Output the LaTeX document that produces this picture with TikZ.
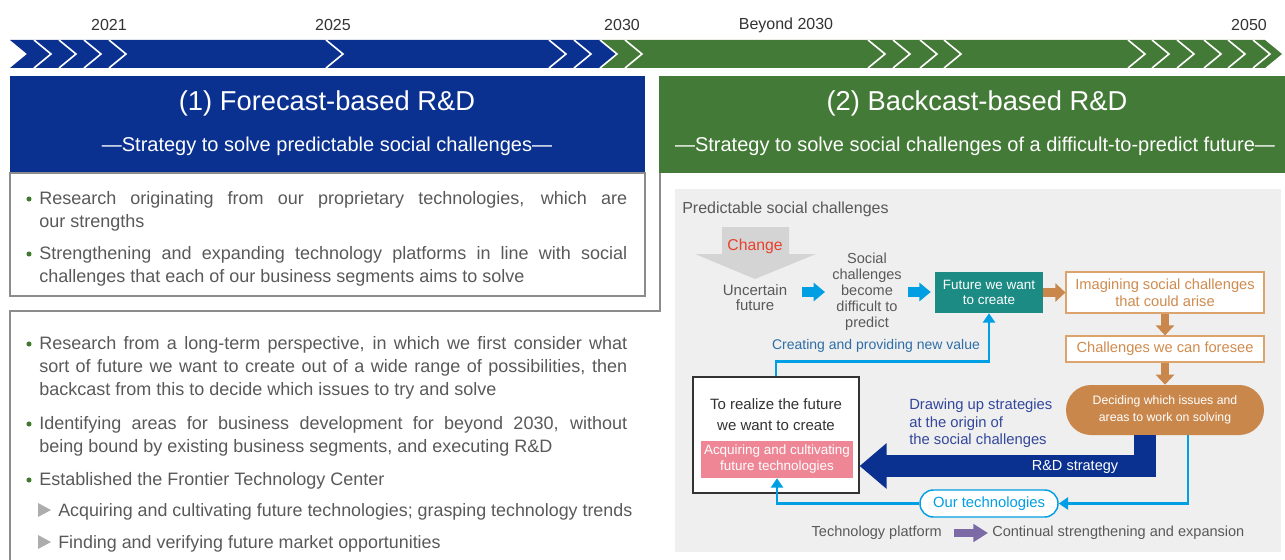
\documentclass[tikz,border=0pt]{standalone}
\usepackage{fontspec}
\setmainfont{Liberation Sans}
\usetikzlibrary{arrows.meta,positioning,calc}
\definecolor{fblue}{HTML}{0B3190}
\definecolor{bgreen}{HTML}{447A37}
\definecolor{yeartxt}{HTML}{333333}
\definecolor{bodytxt}{HTML}{595959}
\definecolor{boxline}{HTML}{8C8C8C}
\definecolor{dotgreen}{HTML}{3E7B2F}
\definecolor{trigray}{HTML}{ADADAD}
\definecolor{panelgray}{HTML}{EFEFEF}
\definecolor{changegray}{HTML}{D4D4D4}
\definecolor{changered}{HTML}{E8412B}
\definecolor{skyblue}{HTML}{009FE3}
\definecolor{tealfill}{HTML}{1B8B84}
\definecolor{ochre}{HTML}{C9874B}
\definecolor{ochreline}{HTML}{DDA36C}
\definecolor{ochretxt}{HTML}{D08B4F}
\definecolor{navytxt}{HTML}{33479B}
\definecolor{pinkfill}{HTML}{EE8696}
\definecolor{purplearr}{HTML}{7B6AA5}
\definecolor{valuetxt}{HTML}{2E6EA6}
\tikzset{
  yearlbl/.style={text=yeartxt,inner sep=0pt,font=\fontsize{12}{14}\selectfont},
  htitle/.style={text=white,inner sep=0pt,font=\fontsize{20.5}{24}\selectfont},
  hsub/.style={text=white,inner sep=0pt,font=\fontsize{15}{18}\selectfont},
  bullettxt/.style={text=bodytxt,text width=441pt,align=justify,inner sep=0pt,anchor=base west,font=\fontsize{13.5}{17.6}\selectfont},
  subtxt/.style={text=bodytxt,inner sep=0pt,anchor=base west,font=\fontsize{13.4}{16}\selectfont},
  gdot/.style={circle,fill=dotgreen,inner sep=0pt,minimum size=3.8pt},
  chev/.style={draw=white,line width=1.2pt},
  boxln/.style={draw=boxline,line width=1.1pt},
  plaintxt/.style={text=bodytxt,inner sep=0pt,align=center},
  tealbox/.style={fill=tealfill,text=white,align=center,inner sep=0pt,minimum width=81pt,minimum height=30.75pt,font=\fontsize{10.1}{11.25}\selectfont},
  ochrebox/.style={draw=ochreline,line width=0.9pt,fill=white,text=ochretxt,align=center,inner sep=0pt,minimum width=148.5pt,font=\fontsize{11}{12.75}\selectfont},
  ochrepill/.style={fill=ochre,text=white,align=center,inner sep=0pt,minimum width=148.5pt,minimum height=37.5pt,rounded corners=18.7pt,font=\fontsize{9.2}{12.75}\selectfont},
  techpill/.style={draw=skyblue,line width=1.1pt,fill=white,text=skyblue,inner sep=0pt,minimum width=103.5pt,minimum height=20.25pt,rounded corners=10pt,font=\fontsize{11.1}{13}\selectfont},
  realbox/.style={draw=yeartxt,line width=0.9pt,fill=white,inner sep=0pt,minimum width=124.5pt,minimum height=87pt},
  pinkbox/.style={fill=pinkfill,text=white,align=center,inner sep=0pt,minimum width=114pt,minimum height=27.75pt,font=\fontsize{10.1}{12}\selectfont},
  skyblk/.style={draw=skyblue,line width=7.5pt,-{Triangle[length=8.5pt,width=13.5pt]}},
  ochreblk/.style={draw=ochre,line width=6.5pt,-{Triangle[length=7.5pt,width=13.5pt]}},
  purpleblk/.style={draw=purplearr,line width=6pt,-{Triangle[length=11pt,width=13pt]}},
  rdarr/.style={draw=fblue,line width=16.5pt,line join=miter,-{Triangle[length=20.25pt,width=33pt]}},
  skyline/.style={draw=skyblue,line width=1.9pt,-{Triangle[length=7pt,width=9pt]}}
}

\begin{document}
\begin{tikzpicture}[x=0.75pt,y=-0.75pt]
  \useasboundingbox (0,0) rectangle (1285,560);
  % timeline band
  \fill[fblue] (10,40) -- (600,40) -- (617,54) -- (600,68) -- (10,68) -- (27,54) -- cycle;
  \fill[bgreen] (600,40) -- (1265,40) -- (1282,54) -- (1265,68) -- (600,68) -- (617,54) -- cycle;
  \foreach \x in {34,59,84,109,326,549,574,600,625,868,893,920,944,1128,1152,1177,1204,1228,1253}
    \draw[chev] (\x,40) -- ++(17,14) -- ++(-17,14);
  \node[yearlbl] (y2021) at (109,25) {2021};
  \node[yearlbl] (y2025) at (333,25) {2025};
  \node[yearlbl] (y2030) at (622,25) {2030};
  \node[yearlbl] (ybeyond) at (786,25) {Beyond 2030};
  \node[yearlbl] (y2050) at (1249,25) {2050};

  % headers
  \fill[fblue] (10,76) rectangle (645,173);
  \fill[bgreen] (659,76) rectangle (1285,173);
  \node[htitle] (fctitle) at (327,103) {(1) Forecast-based R\&D};
  \node[hsub] (fcsub) at (327,146.5) {—Strategy to solve predictable social challenges—};
  \node[htitle] (bctitle) at (977,103) {(2) Backcast-based R\&D};
  \node[hsub] (bcsub) at (975,146.5) {—Strategy to solve social challenges of a difficult-to-predict future—};

  % forecast box
  \draw[boxln] (10,173) rectangle (645,296);
  \node[gdot] (fd1) at (29,199) {};
  \node[bullettxt] (fc1) at (39,204) {Research originating from our proprietary technologies, which are\linebreak our strengths};
  \node[gdot] (fd2) at (29,254) {};
  \node[bullettxt] (fc2) at (39,259) {Strengthening and expanding technology platforms in line with social\linebreak challenges that each of our business segments aims to solve};

  % backcast box
  \draw[boxln] (660,173) -- (660,311) -- (10,311) -- (10,562);
  \node[gdot] (bd1) at (29,344) {};
  \node[bullettxt] (bc1) at (39,349) {Research from a long-term perspective, in which we first consider what\linebreak sort of future we want to create out of a wide range of possibilities, then\linebreak backcast from this to decide which issues to try and solve};
  \node[gdot] (bd2) at (29,424) {};
  \node[bullettxt] (bc2) at (39,429) {Identifying areas for business development for beyond 2030, without\linebreak being bound by existing business segments, and executing R\&D};
  \node[gdot] (bd3) at (29,480) {};
  \node[bullettxt] (bc3) at (39,485) {Established the Frontier Technology Center};
  \fill[trigray] (38,503) -- (51,510) -- (38,517) -- cycle;
  \node[subtxt] (bc3a) at (58,516) {Acquiring and cultivating future technologies; grasping technology trends};
  \fill[trigray] (38,535) -- (51,542) -- (38,549) -- cycle;
  \node[subtxt] (bc3b) at (58,548) {Finding and verifying future market opportunities};

  % backcast flow panel
  \fill[panelgray] (675,189) rectangle (1281,552);
  \node[plaintxt,anchor=west,font=\fontsize{12}{14}\selectfont] (predict) at (682,209) {Predictable social challenges};
  \fill[changegray] (722,227) -- (789,227) -- (789,254) -- (816,254) -- (755,279) -- (695,254) -- (722,254) -- cycle;
  \node[inner sep=0pt,text=changered,font=\fontsize{11.8}{14}\selectfont] (change) at (755,246.5) {Change};
  \node[plaintxt,font=\fontsize{11.25}{11.25}\selectfont] (uncertain) at (755,297.5) {Uncertain\\future};
  \node[plaintxt,font=\fontsize{10.9}{12}\selectfont] (social) at (867,292) {Social\\challenges\\become\\difficult to\\predict};
  \node[tealbox] (want) at (989,292.5) {Future we want\\to create};
  \node[ochrebox,minimum height=30.75pt] (imagine) at (1165,292.5) {Imagining social challenges\\that could arise};
  \node[ochrebox,minimum height=19.5pt] (foresee) at (1165,349) {Challenges we can foresee};
  \node[ochrepill] (decide) at (1165,410) {Deciding which issues and\\areas to work on solving};
  \node[realbox] (realize) at (776,435) {};
  \node[plaintxt,text=yeartxt,font=\fontsize{11.25}{15.75}\selectfont] (realizetxt) at (776,415) {To realize the future\\we want to create};
  \node[pinkbox] (acquire) at (777,459.5) {Acquiring and cultivating\\future technologies};
  \node[techpill] (ourtech) at (989,503.5) {Our technologies};
  \node[inner sep=0pt,anchor=west,align=left,text=navytxt,font=\fontsize{11.1}{13.1}\selectfont] (drawing) at (909,423.5) {Drawing up strategies\\at the origin of\\the social challenges};
  \node[inner sep=0pt,anchor=east,text=bodytxt,font=\fontsize{10.9}{13}\selectfont] (platform) at (942,533) {Technology platform};
  \node[inner sep=0pt,anchor=west,text=bodytxt,font=\fontsize{10.9}{13}\selectfont] (continual) at (992,533) {Continual strengthening and expansion};

  \draw[skyblk,shorten <=11.25pt,shorten >=5.25pt] (uncertain.east |- social.west) -- (social.west);
  \draw[skyblk,shorten <=4.7pt,shorten >=3pt] (social.east) -- (social.east -| want.west);
  \draw[ochreblk] (want) -- (imagine);
  \draw[ochreblk] (imagine) -- (foresee);
  \draw[ochreblk] (foresee) -- (decide);
  \draw[rdarr] ($(decide.south)+(-20,0)$) |- ($(realize.east)+(0,31)$);
  \node[text=white,inner sep=0pt,font=\fontsize{10.9}{13}\selectfont] (rdlbl) at (1075,466.5) {R\&D strategy};
  \draw[skyline] ($(decide.south)+(23,0)$) |- (ourtech.east);
  \draw[skyline] (ourtech.west) -| (acquire.south);
  \draw[skyline] (realize.north) -- ++(0,-15) -| (want.south);
  \node[inner sep=0pt,text=valuetxt,font=\fontsize{10.5}{13}\selectfont] (creating) at (876,345.5) {Creating and providing new value};
  \draw[purpleblk,shorten <=9pt,shorten >=3pt] (platform) -- (continual);
\end{tikzpicture}
\end{document}
